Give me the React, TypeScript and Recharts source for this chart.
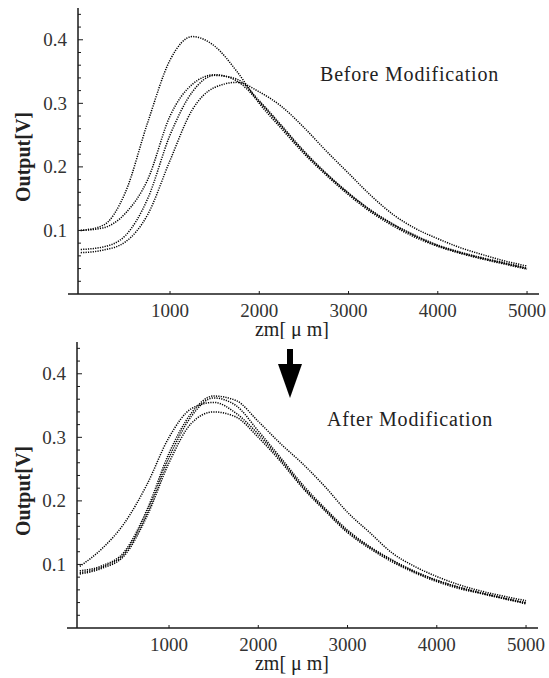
import { LineChart, Line, XAxis, YAxis, ReferenceLine } from 'recharts'

// positions along the scan, micrometres
const zm = [0, 250, 500, 750, 1000, 1250, 1500, 1750, 2000, 2250, 2500, 2750, 3000, 3250, 3500, 3750, 4000, 4250, 4500, 4750, 5000]

// before modification (V)
const before1 = [0.1, 0.108, 0.16, 0.27, 0.368, 0.405, 0.39, 0.35, 0.3, 0.26, 0.221, 0.187, 0.156, 0.129, 0.107, 0.089, 0.075, 0.064, 0.055, 0.047, 0.039]
const before2 = [0.1, 0.104, 0.127, 0.18, 0.28, 0.33, 0.345, 0.335, 0.302, 0.263, 0.223, 0.189, 0.158, 0.131, 0.109, 0.091, 0.076, 0.065, 0.056, 0.048, 0.04]
const before3 = [0.07, 0.074, 0.092, 0.15, 0.25, 0.318, 0.344, 0.338, 0.304, 0.265, 0.225, 0.19, 0.159, 0.132, 0.11, 0.092, 0.077, 0.066, 0.057, 0.049, 0.041]
const before4 = [0.065, 0.069, 0.082, 0.125, 0.21, 0.29, 0.325, 0.333, 0.318, 0.295, 0.262, 0.225, 0.19, 0.155, 0.125, 0.103, 0.087, 0.073, 0.062, 0.052, 0.044]

// after modification (V)
const after1 = [0.097, 0.125, 0.165, 0.225, 0.3, 0.345, 0.355, 0.338, 0.305, 0.265, 0.222, 0.186, 0.152, 0.127, 0.106, 0.089, 0.075, 0.064, 0.055, 0.047, 0.04]
const after2 = [0.09, 0.098, 0.12, 0.185, 0.275, 0.338, 0.365, 0.358, 0.325, 0.29, 0.258, 0.222, 0.182, 0.15, 0.118, 0.097, 0.081, 0.068, 0.058, 0.05, 0.043]
const after3 = [0.087, 0.096, 0.117, 0.18, 0.268, 0.333, 0.362, 0.35, 0.31, 0.268, 0.225, 0.188, 0.154, 0.128, 0.107, 0.089, 0.075, 0.064, 0.055, 0.047, 0.039]
const after4 = [0.085, 0.094, 0.114, 0.175, 0.26, 0.322, 0.34, 0.332, 0.3, 0.262, 0.22, 0.184, 0.15, 0.125, 0.104, 0.087, 0.073, 0.062, 0.054, 0.046, 0.038]

const xTicks = [1000, 2000, 3000, 4000, 5000]
const yTicks = [0.02, 0.04, 0.06, 0.08, 0.1, 0.12, 0.14, 0.16, 0.18, 0.2, 0.22, 0.24, 0.26, 0.28, 0.3, 0.32, 0.34, 0.36, 0.38, 0.4, 0.42, 0.44]
const yLabels = [0.1, 0.2, 0.3, 0.4]

const font = '"Liberation Serif", "Times New Roman", serif'
const ink = '#1a1a1a'

const makeRows = (series: number[][]) =>
  zm.map((x, i) => ({ x, s0: series[0][i], s1: series[1][i], s2: series[2][i], s3: series[3][i] }))

const beforeRows = makeRows([before1, before2, before3, before4])
const afterRows = makeRows([after1, after2, after3, after4])

function Panel({ rows, axisX, top, right }: { rows: any[]; axisX: number; top: number; right: number }) {
  const height = 339
  const xAxisH = height - top - 286
  const axisY = top + 286

  const YTick = (p: any) => {
    const v = p.payload.value
    const major = yLabels.some(l => Math.abs(l - v) < 1e-6)
    return (
      <g>
        <line x1={axisX} x2={axisX + (major ? 5 : 3)} y1={p.y} y2={p.y} stroke={ink} strokeWidth={1} />
        {major && (
          <text x={axisX - 11} y={p.y} dy="0.34em" textAnchor="end" style={{ fontFamily: font, fontSize: 19 }} fill="#333">
            {v.toFixed(1)}
          </text>
        )}
      </g>
    )
  }

  const XTick = (p: any) => (
    <g>
      <line x1={p.x} x2={p.x} y1={axisY} y2={axisY - 3} stroke={ink} strokeWidth={1} />
      <text x={p.x} y={axisY + 23} textAnchor="middle" style={{ fontFamily: font, fontSize: 19 }} fill="#333">
        {p.payload.value}
      </text>
    </g>
  )

  return (
    <LineChart width={549} height={height} data={rows} margin={{ top, right, bottom: 0, left: 0 }}>
      <XAxis
        dataKey="x"
        type="number"
        domain={[-31, 5134]}
        ticks={xTicks}
        interval={0}
        axisLine={false}
        tickLine={false}
        tick={XTick}
        height={xAxisH}
        label={{
          content: () => (
            <text x={292} y={axisY + 42} textAnchor="middle" style={{ fontFamily: font, fontSize: 20 }} fill="#222">
              zm[ μ m]
            </text>
          ),
        }}
      />
      <YAxis
        type="number"
        domain={[0, 0.45]}
        ticks={yTicks}
        interval={0}
        width={axisX}
        axisLine={{ stroke: ink, strokeWidth: 1.5 }}
        tickLine={false}
        tick={YTick}
        label={{
          content: () => (
            <text
              x={30}
              y={top + 149}
              transform={`rotate(-90 30 ${top + 149})`}
              textAnchor="middle"
              style={{ fontFamily: font, fontSize: 20, fontWeight: 'bold' }}
              fill="#222"
            >
              Output[V]
            </text>
          ),
        }}
      />
      <ReferenceLine
        segment={[{ x: -143, y: 0 }, { x: 5134, y: 0 }]}
        stroke={ink}
        strokeWidth={1.5}
        ifOverflow="visible"
      />
      {['s0', 's1', 's2', 's3'].map(k => (
        <Line
          key={k}
          dataKey={k}
          type="monotone"
          stroke="#000"
          strokeWidth={1.5}
          strokeDasharray="1.2 1.2"
          dot={false}
          isAnimationActive={false}
        />
      ))}
    </LineChart>
  )
}

export default function App() {
  const note = {
    position: 'absolute' as const,
    fontFamily: font,
    fontSize: 20,
    lineHeight: '20px',
    letterSpacing: '0.8px',
    color: '#222',
    whiteSpace: 'nowrap' as const,
  }
  return (
    <div style={{ position: 'absolute', left: 0, top: 0, width: 549, height: 678, background: '#fff' }}>
      <Panel rows={beforeRows} axisX={78} top={8} right={10} />
      <div style={{ position: 'absolute', left: 0, top: 339 }}>
        <Panel rows={afterRows} axisX={77} top={3} right={11} />
      </div>
      <div style={{ ...note, left: 320, top: 64 }}>Before Modification</div>
      <div style={{ ...note, left: 327, top: 409 }}>After Modification</div>
      <svg style={{ position: 'absolute', left: 274, top: 347 }} width={32} height={54}>
        <rect x={13} y={2} width={6} height={24} fill="#000" />
        <polygon points="4,17 28,17 16,51" fill="#000" />
      </svg>
    </div>
  )
}
